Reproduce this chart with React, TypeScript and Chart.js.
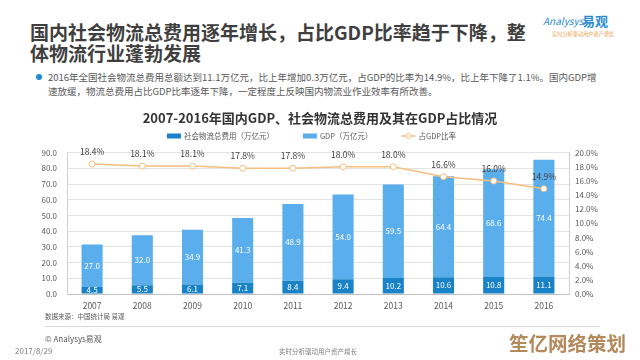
import React, { useEffect, useRef } from "react";
import { Chart, registerables } from "chart.js";

Chart.register(...registerables);

const FONT = "'Noto Sans CJK SC', 'Noto Sans', sans-serif";

const years = ["2007", "2008", "2009", "2010", "2011", "2012", "2013", "2014", "2015", "2016"];
const logisticsCost = [4.5, 5.5, 6.1, 7.1, 8.4, 9.4, 10.2, 10.6, 10.8, 11.1];
const gdpValues = [27.0, 32.0, 34.9, 41.3, 48.9, 54.0, 59.5, 64.4, 68.6, 74.4];
const ratioValues = [18.4, 18.1, 18.1, 17.8, 17.8, 18.0, 18.0, 16.6, 16.0, 14.9];
const seriesNames = ["社会物流总费用（万亿元）", "GDP（万亿元）", "占GDP比率"];
const chartTitle = "2007-2016年国内GDP、社会物流总费用及其在GDP占比情况";
const leftAxis = { min: 0, max: 90, step: 10 };
const rightAxis = { min: 0, max: 20, step: 2 };

const DARK_BLUE = "#1A82C6";
const LIGHT_BLUE = "#5BAEEC";
const ORANGE = "#F6BD7C";

const labelPlugin = {
  id: "valueLabels",
  afterDatasetsDraw(chart: any) {
    const ctx = chart.ctx;
    ctx.save();
    ctx.textAlign = "center";
    ctx.textBaseline = "middle";
    chart.data.datasets.forEach((ds: any, di: number) => {
      const meta = chart.getDatasetMeta(di);
      meta.data.forEach((el: any, i: number) => {
        const v = ds.data[i];
        if (ds.type === "line") {
          ctx.font = `8.5px ${FONT}`;
          ctx.fillStyle = "#404040";
          ctx.fillText(v.toFixed(1) + "%", el.x, el.y - 12);
        } else {
          ctx.font = `8px ${FONT}`;
          ctx.fillStyle = "#FFFFFF";
          ctx.fillText(v.toFixed(1), el.x, (el.y + el.base) / 2);
        }
      });
    });
    ctx.restore();
  },
};

const legendPlugin = {
  id: "customLegend",
  afterDraw(chart: any) {
    const ctx = chart.ctx;
    ctx.save();
    ctx.font = `7.5px ${FONT}`;
    ctx.textBaseline = "middle";
    const y = 36;
    const box = 14;
    const gapText = 3;
    const gapItem = 29;
    const items = chart.data.datasets.map((ds: any) => ({ ds, w: ctx.measureText(ds.label).width }));
    const total =
      items.reduce((s: number, it: any) => s + box + gapText + it.w, 0) + gapItem * (items.length - 1);
    let x = (chart.chartArea.left + chart.chartArea.right) / 2 - 6.5 - total / 2;
    items.forEach((it: any) => {
      const ds = it.ds;
      if (ds.type === "line") {
        ctx.strokeStyle = ds.borderColor;
        ctx.lineWidth = 1.5;
        ctx.beginPath();
        ctx.moveTo(x, y);
        ctx.lineTo(x + box, y);
        ctx.stroke();
        ctx.beginPath();
        ctx.arc(x + box / 2, y, 2.5, 0, Math.PI * 2);
        ctx.fillStyle = "#fff";
        ctx.fill();
        ctx.lineWidth = 1;
        ctx.stroke();
      } else {
        ctx.fillStyle = ds.backgroundColor;
        ctx.fillRect(x, y - 2.5, box, 5);
      }
      x += box + gapText;
      ctx.fillStyle = "#595959";
      ctx.fillText(ds.label, x, y);
      x += it.w + gapItem;
    });
    ctx.restore();
  },
};

function ChartCanvas() {
  const ref = useRef<HTMLCanvasElement | null>(null);
  useEffect(() => {
    if (!ref.current) return;
    Chart.defaults.font.family = FONT;
    const chart = new Chart(ref.current, {
      type: "bar",
      data: {
        labels: years,
        datasets: [
          {
            type: "bar",
            label: seriesNames[0],
            data: logisticsCost,
            backgroundColor: DARK_BLUE,
            stack: "s",
            yAxisID: "y",
            order: 1,
            barPercentage: 0.42,
            categoryPercentage: 1,
          } as any,
          {
            type: "bar",
            label: seriesNames[1],
            data: gdpValues,
            backgroundColor: LIGHT_BLUE,
            stack: "s",
            yAxisID: "y",
            order: 1,
            barPercentage: 0.42,
            categoryPercentage: 1,
          } as any,
          {
            type: "line",
            label: seriesNames[2],
            data: ratioValues,
            borderColor: ORANGE,
            borderWidth: 1.5,
            pointRadius: 3,
            pointBackgroundColor: "#FFFFFF",
            pointBorderColor: ORANGE,
            pointBorderWidth: 1,
            tension: 0,
            yAxisID: "y1",
            order: 0,
          } as any,
        ],
      },
      options: {
        animation: false,
        responsive: false,
        maintainAspectRatio: false,
        layout: { padding: 0 },
        plugins: {
          legend: { display: false },
          tooltip: { enabled: false },
          title: {
            display: true,
            text: chartTitle,
            color: "#333333",
            font: { size: 13, weight: "bold", family: FONT },
            padding: { top: 10.2, bottom: 26.9 },
          },
        },
        scales: {
          x: {
            stacked: true,
            grid: { display: false, drawTicks: false },
            border: { display: true, color: "#BFBFBF" },
            ticks: { color: "#595959", font: { size: 8.5 }, padding: 6.5 },
            afterFit: (s: any) => {
              s.height = 21;
            },
          },
          y: {
            stacked: true,
            position: "left",
            min: leftAxis.min,
            max: leftAxis.max,
            grid: { color: "#E3E3E3", drawTicks: false },
            border: { display: true, color: "#D0D0D0" },
            ticks: {
              stepSize: leftAxis.step,
              color: "#595959",
              font: { size: 8 },
              padding: 10,
              callback: (v: any) => Number(v).toFixed(1),
            },
            afterFit: (s: any) => {
              s.width = 67;
            },
          },
          y1: {
            position: "right",
            min: rightAxis.min,
            max: rightAxis.max,
            grid: { drawOnChartArea: false, drawTicks: false },
            border: { display: true, color: "#D0D0D0" },
            ticks: {
              stepSize: rightAxis.step,
              color: "#595959",
              font: { size: 8 },
              padding: 6,
              callback: (v: any) => Number(v).toFixed(1) + "%",
            },
            afterFit: (s: any) => {
              s.width = 71;
            },
          },
        },
      } as any,
      plugins: [labelPlugin, legendPlugin],
    });
    return () => chart.destroy();
  }, []);
  return (
    <canvas
      ref={ref}
      width={640}
      height={215}
      style={{ position: "absolute", left: 0, top: 100, width: 640, height: 215 }}
    />
  );
}

export default function App() {
  const abs = (extra: React.CSSProperties): React.CSSProperties => ({
    position: "absolute",
    whiteSpace: "nowrap",
    ...extra,
  });
  return (
    <div
      style={{
        position: "fixed",
        left: 0,
        top: 0,
        width: 640,
        height: 360,
        background: "#FFFFFF",
        overflow: "hidden",
        fontFamily: FONT,
      }}
    >
      <div style={abs({ left: 30, top: 21, fontSize: 19, lineHeight: "21px", fontWeight: 700, color: "#3F3F3F" })}>
        国内社会物流总费用逐年增长，占比GDP比率趋于下降，整
        <br />
        体物流行业蓬勃发展
      </div>
      <div style={abs({ left: 543, top: 14, fontSize: 10, lineHeight: "14px", color: "#2C8BD0", fontStyle: "italic" })}>
        Analysys
      </div>
      <div style={abs({ left: 582, top: 12, fontSize: 13, lineHeight: "17px", color: "#2C8BD0", fontWeight: 700 })}>
        易观
      </div>
      <div style={abs({ left: 552, top: 30, fontSize: 5.2, lineHeight: "7px", color: "#E8A24A" })}>
        实时分析驱动用户资产增长
      </div>
      <div
        style={abs({ left: 36, top: 74, width: 6, height: 6, borderRadius: 3, background: "#1F8BD0" })}
      />
      <div style={abs({ left: 48, top: 70, fontSize: 9.5, lineHeight: "14px", color: "#595959" })}>
        2016年全国社会物流总费用总额达到11.1万亿元，比上年增加0.3万亿元，占GDP的比率为14.9%，比上年下降了1.1%。国内GDP增
        <br />
        速放缓，物流总费用占比GDP比率逐年下降，一定程度上反映国内物流业作业效率有所改善。
      </div>
      <ChartCanvas />
      <div style={abs({ left: 45, top: 312, fontSize: 6.5, lineHeight: "8px", color: "#595959" })}>
        数据来源：中国统计局 易观
      </div>
      <div style={abs({ left: 45, top: 326, width: 555, height: 1, background: "#D9D9D9" })} />
      <div style={abs({ left: 45, top: 334, fontSize: 8, lineHeight: "10px", color: "#595959" })}>
        © Analysys易观
      </div>
      <div style={abs({ left: 15, top: 346, fontSize: 8, lineHeight: "10px", color: "#7F7F7F" })}>
        2017/8/29
      </div>
      <div
        style={abs({
          left: 318,
          top: 347,
          fontSize: 6.5,
          lineHeight: "8px",
          color: "#7F7F7F",
          transform: "translateX(-50%)",
        })}
      >
        实时分析驱动用户资产增长
      </div>
      <div style={abs({ left: 509, top: 331, fontSize: 19.5, lineHeight: "23px", fontWeight: 700, color: "#B4895C" })}>
        笙亿网络策划
      </div>
    </div>
  );
}
